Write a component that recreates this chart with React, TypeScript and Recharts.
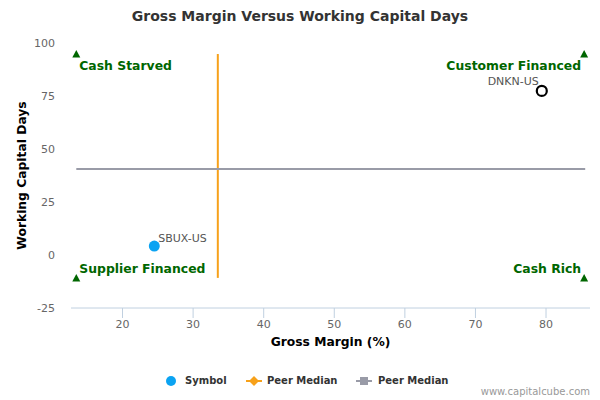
import React from 'react';
import {
  ScatterChart,
  Scatter,
  XAxis,
  YAxis,
  ReferenceLine,
} from 'recharts';

// companies plotted
const symbols = ['SBUX-US', 'DNKN-US'];
const grossMargin = [24.5, 79.4];
const workingCapitalDays = [4.2, 77.4];

// peer medians
const peerMedianMargin = 33.5;
const peerMedianDays = 40.6;

// quadrant markers (top-left, top-right, bottom-left, bottom-right)
const quadrantLabels = ['Cash Starved', 'Customer Financed', 'Supplier Financed', 'Cash Rich'];
const quadrantX = [13.45, 85.4, 13.45, 85.4];
const quadrantY = [94.8, 94.8, -10.8, -10.8];

const xTicks = [20, 30, 40, 50, 60, 70, 80];
const yTicks = [-25, 0, 25, 50, 75, 100];

const FONT = '"DejaVu Sans", sans-serif';
const GREEN = '#006600';
const BLUE = '#0ba3f2';
const ORANGE = '#f7a11a';
const GRAY = '#999ba7';

const sbuxData = [{ x: grossMargin[0], y: workingCapitalDays[0], name: symbols[0] }];
const dnknData = [{ x: grossMargin[1], y: workingCapitalDays[1], name: symbols[1] }];
const quadrantData = quadrantLabels.map((name, i) => ({ x: quadrantX[i], y: quadrantY[i], name, i }));

const SbuxShape = (props: any) => {
  const { cx, cy, payload } = props;
  return (
    <g>
      <circle cx={cx} cy={cy} r={5.5} fill={BLUE} />
      <text x={cx + 4} y={cy - 4} fontSize={11} fill="#555" fontFamily={FONT}>
        {payload.name}
      </text>
    </g>
  );
};

const DnknShape = (props: any) => {
  const { cx, cy, payload } = props;
  return (
    <g>
      <circle cx={cx} cy={cy} r={5} fill="#fff" stroke="#000" strokeWidth={2.2} />
      <text x={cx - 3} y={cy - 6} fontSize={11} fill="#555" fontFamily={FONT} textAnchor="end">
        {payload.name}
      </text>
    </g>
  );
};

const QuadrantShape = (props: any) => {
  const { cx, cy, payload } = props;
  const right = payload.i % 2 === 1;
  const bottom = payload.i >= 2;
  return (
    <g>
      <polygon points={`${cx},${cy - 4} ${cx + 4},${cy + 3.5} ${cx - 4},${cy + 3.5}`} fill={GREEN} />
      <text
        x={right ? cx - 3 : cx + 3}
        y={bottom ? cy - 5 : cy + 16}
        fontSize={12.4}
        fontWeight="bold"
        fill={GREEN}
        fontFamily={FONT}
        textAnchor={right ? 'end' : 'start'}
      >
        {payload.name}
      </text>
    </g>
  );
};

const legendText: React.CSSProperties = {
  position: 'absolute',
  top: 375,
  fontSize: 10,
  fontWeight: 'bold',
  color: '#333',
  fontFamily: FONT,
  lineHeight: '12px',
};

export default function App() {
  return (
    <div style={{ position: 'absolute', left: 0, top: 0, width: 600, height: 400, background: '#fff', fontFamily: FONT }}>
      <div
        style={{
          position: 'absolute',
          top: 8,
          left: 0,
          width: 600,
          textAlign: 'center',
          fontSize: 14,
          fontWeight: 'bold',
          color: '#333',
        }}
      >
        Gross Margin Versus Working Capital Days
      </div>
      <ScatterChart width={600} height={400} margin={{ top: 43, right: 10, bottom: 52, left: 0 }}>
        <XAxis
          type="number"
          dataKey="x"
          domain={[12.7, 86.23]}
          ticks={xTicks}
          height={40}
          tickSize={10}
          tickMargin={2}
          axisLine={{ stroke: '#c0d0e0' }}
          tickLine={{ stroke: '#c0d0e0' }}
          tick={{ fontSize: 11, fill: '#666', fontFamily: FONT }}
          label={{
            value: 'Gross Margin (%)',
            position: 'insideBottom',
            offset: 2,
            style: { fontSize: 12.3, fontWeight: 'bold', fill: '#000', fontFamily: FONT },
          }}
        />
        <YAxis
          type="number"
          dataKey="y"
          domain={[-25, 100]}
          ticks={yTicks}
          width={71}
          axisLine={false}
          tickLine={false}
          tickSize={0}
          tickMargin={16}
          tick={{ fontSize: 11, fill: '#666', fontFamily: FONT }}
          label={{
            value: 'Working Capital Days',
            angle: -90,
            position: 'insideLeft',
            offset: 22,
            style: { textAnchor: 'middle', fontSize: 12.3, fontWeight: 'bold', fill: '#000', fontFamily: FONT },
          }}
        />
        <ReferenceLine
          segment={[
            { x: peerMedianMargin, y: quadrantY[2] },
            { x: peerMedianMargin, y: quadrantY[0] },
          ]}
          stroke={ORANGE}
          strokeWidth={2}
          ifOverflow="visible"
        />
        <ReferenceLine
          segment={[
            { x: quadrantX[0], y: peerMedianDays },
            { x: quadrantX[1] + 0.15, y: peerMedianDays },
          ]}
          stroke={GRAY}
          strokeWidth={2}
          ifOverflow="visible"
        />
        <Scatter data={quadrantData} shape={QuadrantShape} isAnimationActive={false} />
        <Scatter data={sbuxData} shape={SbuxShape} isAnimationActive={false} />
        <Scatter data={dnknData} shape={DnknShape} isAnimationActive={false} />
      </ScatterChart>

      {/* legend */}
      <svg style={{ position: 'absolute', left: 0, top: 370 }} width={600} height={22}>
        <circle cx={171} cy={11} r={5} fill={BLUE} />
        <line x1={246} y1={11} x2={262} y2={11} stroke={ORANGE} strokeWidth={2} />
        <polygon points="254,6 259,11 254,16 249,11" fill={ORANGE} />
        <line x1={356} y1={11} x2={372} y2={11} stroke={GRAY} strokeWidth={2} />
        <rect x={360} y={7} width={8} height={8} fill={GRAY} />
      </svg>
      <div style={{ ...legendText, left: 185 }}>Symbol</div>
      <div style={{ ...legendText, left: 267 }}>Peer Median</div>
      <div style={{ ...legendText, left: 378 }}>Peer Median</div>
      <div
        style={{
          position: 'absolute',
          top: 386,
          right: 10,
          fontSize: 10,
          color: '#999',
          fontFamily: FONT,
          lineHeight: '12px',
        }}
      >
        www.capitalcube.com
      </div>
    </div>
  );
}
